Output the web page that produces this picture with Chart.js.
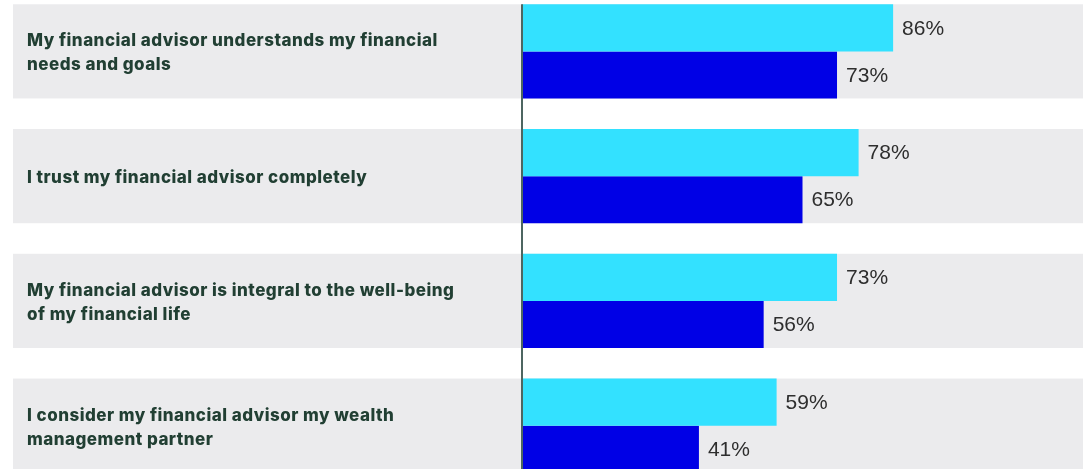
<!DOCTYPE html>
<html>
<head>
<meta charset="utf-8">
<script src="https://cdn.jsdelivr.net/npm/chart.js@4/dist/chart.umd.min.js"></script>
<style>
  html, body { margin: 0; padding: 0; background: #ffffff; overflow: hidden; width: 1083px; height: 469px; }
  #wrap { position: absolute; left: 0; top: -11px; width: 1083px; height: 499px; }
</style>
</head>
<body>
<div id="wrap"><canvas id="c"></canvas></div>
<script>
const categories = [
  ["My financial advisor understands my financial", "needs and goals"],
  ["I trust my financial advisor completely"],
  ["My financial advisor is integral to the well-being", "of my financial life"],
  ["I consider my financial advisor my wealth", "management partner"]
];
const seriesA = [86, 78, 73, 59];
const seriesB = [73, 65, 56, 41];
const seriesNames = ["Group A", "Group B"];

const CAT_PCT = 0.755;

const decor = {
  id: 'decor',
  beforeDatasetsDraw(chart) {
    const { ctx, scales: { y }, width } = chart;
    const pitch = Math.abs(y.getPixelForValue(1) - y.getPixelForValue(0));
    const half = pitch * CAT_PCT / 2;
    ctx.save();
    ctx.fillStyle = '#ebebed';
    categories.forEach((c, i) => {
      const cy = y.getPixelForValue(i);
      ctx.fillRect(13, cy - half, width - 13, half * 2);
    });
    ctx.fillStyle = '#213f33';
    ctx.font = '800 17px Inter, "Noto Sans", sans-serif';
    if ('letterSpacing' in ctx) ctx.letterSpacing = '0.48px';
    ctx.textBaseline = 'middle';
    ctx.textAlign = 'left';
    const lh = 24;
    categories.forEach((lines, i) => {
      const cy = y.getPixelForValue(i) + 2;
      const start = cy - (lines.length - 1) * lh / 2;
      lines.forEach((t, k) => ctx.fillText(t, 27, start + k * lh));
    });
    ctx.restore();
  },
  afterDatasetsDraw(chart) {
    const { ctx, scales: { x, y }, height } = chart;
    const pitch = Math.abs(y.getPixelForValue(1) - y.getPixelForValue(0));
    const half = pitch * CAT_PCT / 2;
    ctx.save();
    const x0 = x.getPixelForValue(0);
    ctx.fillStyle = '#4d6661';
    const top = y.getPixelForValue(0) - half;
    ctx.fillRect(x0 - 1, top, 2, height - top);
    ctx.fillStyle = '#2e2e2e';
    ctx.font = '21px "Liberation Sans", Arial, sans-serif';
    ctx.textBaseline = 'middle';
    ctx.textAlign = 'left';
    chart.data.datasets.forEach((ds, di) => {
      const meta = chart.getDatasetMeta(di);
      meta.data.forEach((bar, i) => {
        ctx.fillText(ds.data[i] + '%', bar.x + 9, bar.y + 1);
      });
    });
    ctx.restore();
  }
};

new Chart(document.getElementById('c'), {
  type: 'bar',
  data: {
    labels: categories,
    datasets: [
      { label: seriesNames[0], data: seriesA, backgroundColor: '#33e1ff', borderWidth: 0 },
      { label: seriesNames[1], data: seriesB, backgroundColor: '#0000e6', borderWidth: 0 }
    ]
  },
  options: {
    indexAxis: 'y',
    responsive: true,
    maintainAspectRatio: false,
    animation: false,
    layout: { padding: { left: 522, right: 0, top: 0, bottom: 0 } },
    datasets: { bar: { categoryPercentage: CAT_PCT, barPercentage: 1 } },
    scales: {
      x: { display: false, min: 0, max: 130 },
      y: { display: false }
    },
    plugins: {
      legend: { display: false },
      tooltip: { enabled: false }
    }
  },
  plugins: [decor]
});
</script>
</body>
</html>
